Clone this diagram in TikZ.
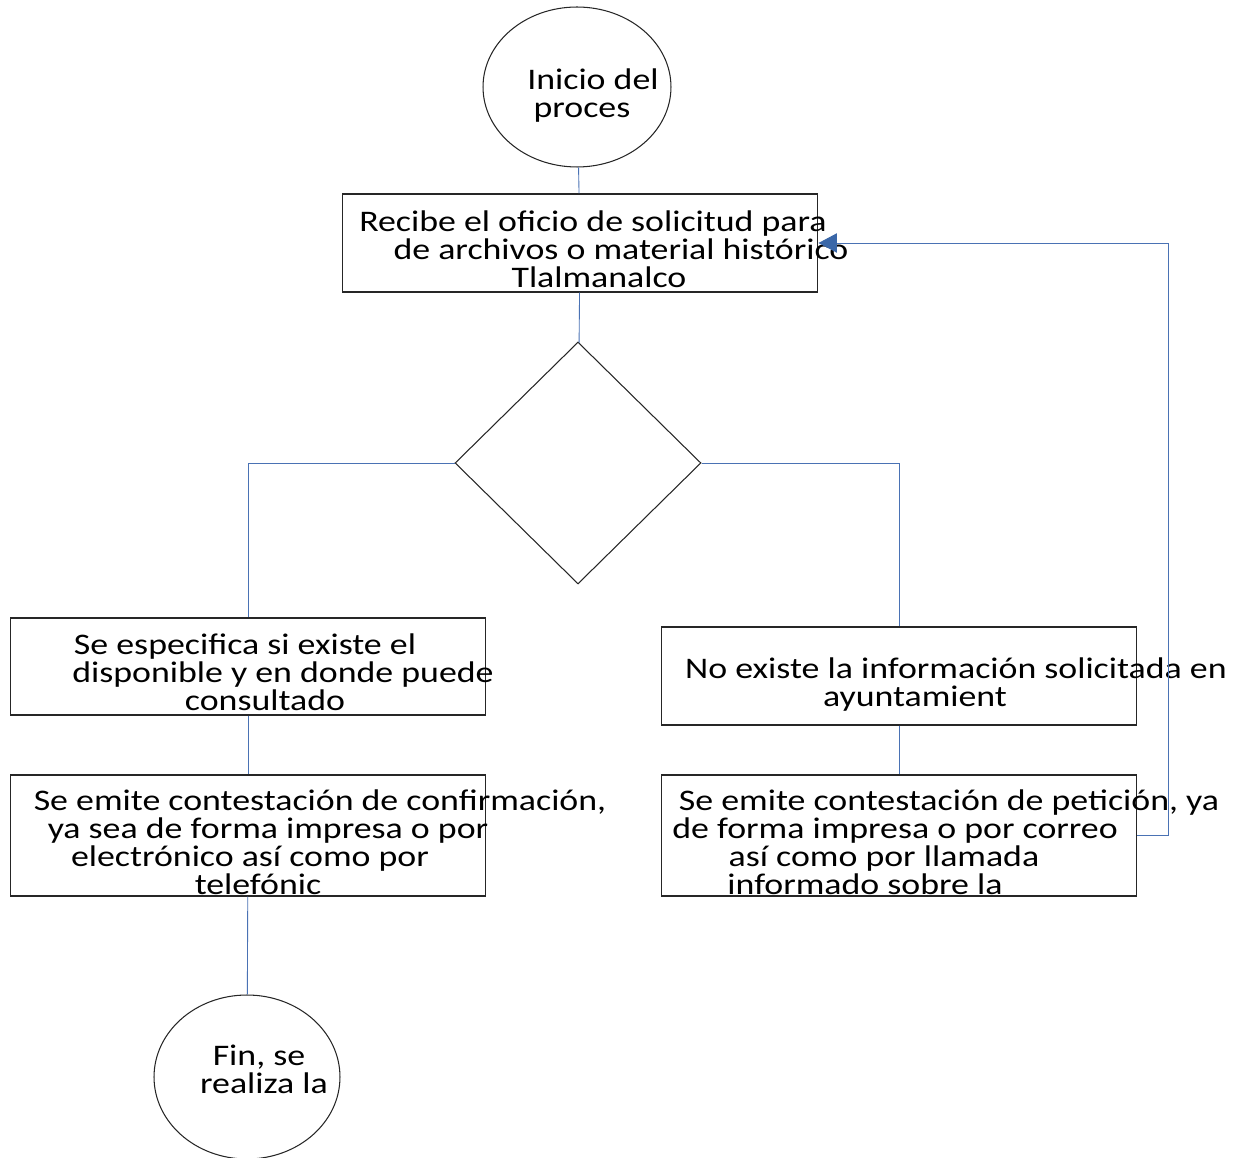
\documentclass[tikz,border=0pt]{standalone}
\usepackage{fontspec}
\setmainfont{Carlito}[FakeStretch=1.2]
\usetikzlibrary{arrows.meta,positioning,shapes.geometric}
\definecolor{flblue}{HTML}{4A72B4}
\definecolor{flarrow}{HTML}{3A67A8}
\newlength{\despx}
\setlength{\despx}{0.04cm}
\newlength{\despy}
\setlength{\despy}{0.02cm}
\newlength{\bajada}
\newcommand{\fila}[2]{\makebox[0pt]{\hspace*{#1\despx}\raisebox{-\bajada}[\height][\depth]{#2}}}

\begin{document}
\begin{tikzpicture}[x=0.02cm, y=-0.02cm, font=\fontsize{17}{15.9}\selectfont,
  bajar/.style={execute at begin node={\global\bajada=#1\despy}},
  caja/.style={draw=black!85, line width=0.6pt, rectangle, minimum width=9.52cm, align=center, inner sep=0pt, bajar=7},
  circulo/.style={draw=black!85, line width=0.6pt, ellipse, align=center, inner sep=0pt},
  rombo/.style={draw=black!85, line width=0.6pt, diamond, inner sep=0pt},
  flecha/.style={draw=flblue, line width=0.5pt}]
  \useasboundingbox (0,0) rectangle (1235,1158);

  % Nodos
  \node[circulo, bajar=9, minimum width=3.76cm, minimum height=3.2cm] (inicio) at (577,87)
    {\fila{16}{Inicio del}\\\fila{5}{proces}};
  \node[caja, bajar=6, minimum height=1.96cm] (recibe) at (580,243)
    {\fila{13}{Recibe el oficio de solicitud para}\\\fila{41}{de archivos o material histórico}\\\fila{19}{Tlalmanalco}};
  \node[rombo, minimum width=4.92cm, minimum height=4.84cm] (decide) at (578,463) {};
  \node[caja, bajar=6, minimum height=1.94cm] (especifica) at (248,666.5)
    {\fila{-3}{Se especifica si existe el}\\\fila{35}{disponible y en donde puede}\\\fila{17}{consultado}};
  \node[caja, bajar=9, minimum height=1.96cm] (noexiste) at (899,676)
    {\fila{57}{No existe la información solicitada en}\\\fila{16}{ayuntamient}};
  \node[caja, minimum height=2.42cm] (confirma) at (248,835.5)
    {\fila{72}{Se emite contestación de confirmación,}\\\fila{20}{ya sea de forma impresa o por}\\\fila{2}{electrónico así como por}\\\fila{10}{telefónic}};
  \node[caja, minimum height=2.42cm] (peticion) at (899,835.5)
    {\fila{50}{Se emite contestación de petición, ya}\\\fila{-4}{de forma impresa o por correo}\\\fila{-15}{así como por llamada}\\\fila{-34}{informado sobre la}};
  \node[circulo, bajar=-8, minimum width=3.72cm, minimum height=3.28cm] (fin) at (247,1077)
    {\fila{12}{Fin, se}\\\fila{17}{realiza la}};

  % Conectores
  \draw[flecha] (inicio) -- (recibe);
  \draw[flecha] (recibe) -- (decide);
  \draw[flecha] (decide.west) -| (especifica.north);
  \draw[flecha] (decide.east) -| (noexiste.north);
  \draw[flecha] (especifica) -- (confirma);
  \draw[flecha] (noexiste) -- (peticion);
  \draw[flecha] (confirma) -- (fin);
  \draw[flecha, -{Triangle[color=flarrow, length=10.5pt, width=11pt]}] (peticion.east) -- ++(31,0) |- (recibe.east);
\end{tikzpicture}
\end{document}
